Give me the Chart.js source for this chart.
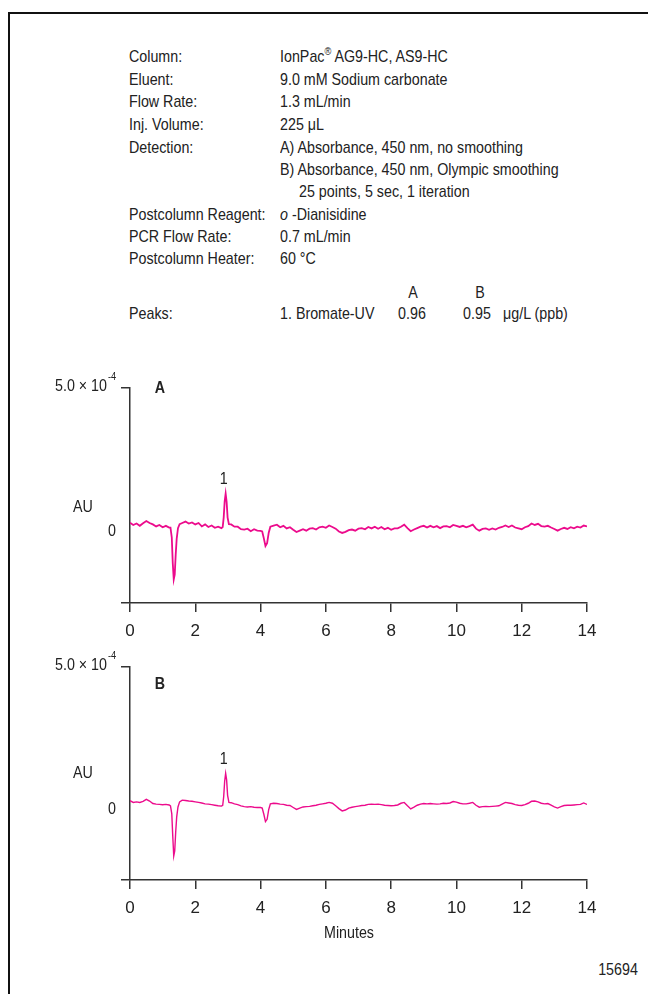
<!DOCTYPE html>
<html>
<head>
<meta charset="utf-8">
<script src="https://cdn.jsdelivr.net/npm/chart.js@4.4.1/dist/chart.umd.min.js"></script>
<style>
  html, body { margin: 0; padding: 0; background: #fff; }
  body {
    width: 648px; height: 994px; position: relative; overflow: hidden;
    font-family: "Liberation Sans", Arial, sans-serif;
    color: #222;
  }
  .frame { position: absolute; left: 8px; top: 12px; width: 700px; height: 1000px;
           border-top: 2px solid #111; border-left: 2px solid #111; }
  /* condensed look: Liberation Sans squeezed horizontally */
  .t { position: absolute; font-size: 17px; line-height: 20px; white-space: nowrap;
       transform: scaleX(0.84); transform-origin: 0 50%; }
  .c { transform: translateX(-50%) scaleX(0.84); transform-origin: 50% 50%; }
  .plot { position: absolute; left: 0; }
  sup { font-size: 11px; vertical-align: 7px; line-height: 0; }
</style>
</head>
<body>
<div class="frame"></div>

<div class="t" style="left:129px;top:47px">Column:</div>
<div class="t" style="left:280px;top:47px">IonPac<sup>®</sup> AG9-HC, AS9-HC</div>
<div class="t" style="left:129px;top:70px">Eluent:</div>
<div class="t" style="left:280px;top:70px">9.0 mM Sodium carbonate</div>
<div class="t" style="left:129px;top:92px">Flow Rate:</div>
<div class="t" style="left:280px;top:92px">1.3 mL/min</div>
<div class="t" style="left:129px;top:115px">Inj. Volume:</div>
<div class="t" style="left:280px;top:115px">225 μL</div>
<div class="t" style="left:129px;top:138px">Detection:</div>
<div class="t" style="left:280px;top:138px">A) Absorbance, 450 nm, no smoothing</div>
<div class="t" style="left:280px;top:160px">B) Absorbance, 450 nm, Olympic smoothing</div>
<div class="t" style="left:299px;top:182px">25 points, 5 sec, 1 iteration</div>
<div class="t" style="left:129px;top:205px">Postcolumn Reagent:</div>
<div class="t" style="left:280px;top:205px"><i>o</i> -Dianisidine</div>
<div class="t" style="left:129px;top:227px">PCR Flow Rate:</div>
<div class="t" style="left:280px;top:227px">0.7 mL/min</div>
<div class="t" style="left:129px;top:249px">Postcolumn Heater:</div>
<div class="t" style="left:280px;top:249px">60 °C</div>
<div class="t c" style="left:413px;top:283px">A</div>
<div class="t c" style="left:480px;top:283px">B</div>
<div class="t" style="left:129px;top:304px">Peaks:</div>
<div class="t" style="left:280px;top:304px">1. Bromate-UV</div>
<div class="t c" style="left:412px;top:304px">0.96</div>
<div class="t c" style="left:477px;top:304px">0.95</div>
<div class="t" style="left:503px;top:304px">μg/L (ppb)</div>

<div class="plot" style="top:370px"><canvas id="chartA" width="648" height="280"></canvas></div>
<div class="plot" style="top:648px"><canvas id="chartB" width="648" height="280"></canvas></div>

<div class="t c" style="left:349px;top:923px">Minutes</div>
<div class="t c" style="left:618px;top:960px">15694</div>

<script>
// Retention time, minutes (shared sampling for both traces)
const minutes = [
  0.0, 0.1, 0.2, 0.3, 0.4, 0.5, 0.6, 0.7, 0.8, 0.9, 1.0, 1.1, 1.2,
  1.24, 1.28, 1.31, 1.34, 1.37, 1.40, 1.43, 1.47, 1.52,
  1.6, 1.7, 1.8, 1.9, 2.0, 2.1, 2.2, 2.3, 2.4, 2.5, 2.6, 2.7, 2.8,
  2.84, 2.87, 2.90, 2.93, 2.96, 2.99, 3.03,
  3.1, 3.2, 3.3, 3.4, 3.5, 3.6, 3.7, 3.8, 3.9, 4.0,
  4.05, 4.10, 4.15, 4.20, 4.25, 4.30,
  4.4, 4.5, 4.6, 4.7, 4.8, 4.9,
  5.0, 5.1, 5.2, 5.3, 5.4, 5.5, 5.6, 5.7, 5.8, 5.9,
  6.0, 6.1, 6.2, 6.3, 6.4, 6.5, 6.6, 6.7, 6.8, 6.9,
  7.0, 7.1, 7.2, 7.3, 7.4, 7.5, 7.6, 7.7, 7.8, 7.9,
  8.0, 8.1, 8.2, 8.3, 8.4, 8.5, 8.6, 8.7, 8.8, 8.9,
  9.0, 9.1, 9.2, 9.3, 9.4, 9.5, 9.6, 9.7, 9.8, 9.9,
  10.0, 10.1, 10.2, 10.3, 10.4, 10.5, 10.6, 10.7, 10.8, 10.9,
  11.0, 11.1, 11.2, 11.3, 11.4, 11.5, 11.6, 11.7, 11.8, 11.9,
  12.0, 12.1, 12.2, 12.3, 12.4, 12.5, 12.6, 12.7, 12.8, 12.9,
  13.0, 13.1, 13.2, 13.3, 13.4, 13.5, 13.6, 13.7, 13.8, 13.9,
  14.0
];

// Absorbance in units of 1e-4 AU, A = no smoothing
const signalA = [
  0.27, 0.19, 0.24, 0.16, 0.25, 0.33, 0.26, 0.21, 0.14, 0.19, 0.11, 0.16, 0.10,
  0.10, -0.25, -1.15, -1.72, -1.55, -0.85, -0.30, 0.08, 0.22,
  0.26, 0.31, 0.24, 0.28, 0.21, 0.26, 0.14, 0.21, 0.12, 0.17, 0.09, 0.13, 0.08,
  0.12, 0.45, 1.02, 1.29, 1.00, 0.45, 0.22,
  0.21, 0.13, 0.13, 0.04, 0.03, 0.06, -0.03, 0.04, -0.01, -0.02,
  -0.04, -0.28, -0.55, -0.45, -0.08, 0.13,
  0.17, 0.20, 0.11, 0.16, 0.07, 0.11,
  0.02, -0.06, -0.01, 0.04, -0.01, 0.06, 0.08, 0.03, 0.11, 0.13,
  0.09, 0.17, 0.12, 0.06, -0.04, -0.09, -0.05, 0.01, 0.03, -0.01,
  0.06, 0.08, 0.04, 0.12, 0.07, 0.13, 0.06, 0.12, 0.04, 0.09,
  0.02, 0.07, 0.07, 0.13, 0.20, 0.08, -0.03, 0.03, 0.08, 0.13,
  0.16, 0.10, 0.16, 0.11, 0.15, 0.08, 0.14, 0.15, 0.11, 0.19,
  0.16, 0.12, 0.16, 0.11, 0.15, 0.20, 0.06, -0.01, 0.05, 0.07,
  0.02, 0.07, 0.03, 0.09, 0.12, 0.17, 0.12, 0.17, 0.10, 0.07,
  0.04, 0.11, 0.15, 0.24, 0.19, 0.23, 0.15, 0.13, 0.16, 0.10,
  0.05, -0.01, 0.05, 0.09, 0.05, 0.11, 0.07, 0.13, 0.10, 0.17,
  0.14
];

// B = Olympic smoothing (25 points, 5 sec, 1 iteration)
const signalB = [
  0.26, 0.20, 0.22, 0.20, 0.24, 0.31, 0.25, 0.16, 0.14, 0.13, 0.12, 0.13, 0.11,
  0.08, -0.20, -1.00, -1.70, -1.52, -0.85, -0.32, 0.04, 0.22,
  0.28, 0.27, 0.25, 0.24, 0.22, 0.20, 0.18, 0.15, 0.14, 0.12, 0.10, 0.08, 0.07,
  0.10, 0.40, 0.95, 1.23, 1.00, 0.45, 0.20,
  0.19, 0.15, 0.12, 0.08, 0.05, 0.04, 0.05, 0.03, 0.02, 0.02,
  0.00, -0.22, -0.48, -0.40, -0.05, 0.15,
  0.17, 0.16, 0.14, 0.13, 0.10, 0.09,
  0.02, -0.05, 0.00, 0.04, 0.05, 0.06, 0.08, 0.10, 0.13, 0.15,
  0.17, 0.20, 0.17, 0.08, -0.02, -0.10, -0.07, 0.00, 0.03, 0.05,
  0.07, 0.09, 0.10, 0.13, 0.14, 0.13, 0.14, 0.12, 0.10, 0.09,
  0.08, 0.09, 0.11, 0.17, 0.20, 0.08, -0.03, 0.03, 0.10, 0.14,
  0.16, 0.15, 0.16, 0.15, 0.14, 0.15, 0.17, 0.16, 0.18, 0.23,
  0.21, 0.17, 0.15, 0.15, 0.17, 0.20, 0.10, 0.03, 0.05, 0.06,
  0.05, 0.06, 0.07, 0.08, 0.14, 0.20, 0.18, 0.16, 0.12, 0.10,
  0.09, 0.12, 0.17, 0.24, 0.25, 0.22, 0.17, 0.15, 0.16, 0.10,
  0.04, 0.00, 0.05, 0.09, 0.10, 0.10, 0.11, 0.12, 0.13, 0.18,
  0.13
];

const xTicks = [0, 2, 4, 6, 8, 10, 12, 14];
const yTopValue = 5.0;      // labelled as 5.0 x 10^-4
const yZeroValue = 0;
const yBottomValue = -2.55;
const peakNames = ['1'];

const FONT = '"Liberation Sans", Arial, sans-serif';
const NARROW = 0.84;
const TRACE = '#ec0b8c';
const AXIS = '#333';

// canvas text squeezed horizontally like the rest of the figure
function narrowText(ctx, text, x, y, align) {
  ctx.save();
  ctx.translate(x, y);
  ctx.scale(NARROW, 1);
  ctx.textAlign = align;
  ctx.fillText(text, 0, 0);
  ctx.restore();
}

// Draws the y labels, the AU caption, the panel letter and the peak number
const panelText = {
  id: 'panelText',
  afterDraw(chart, args, opts) {
    const ctx = chart.ctx;
    const xs = chart.scales.x, ys = chart.scales.y;
    const top = ys.getPixelForValue(yTopValue);
    const zero = ys.getPixelForValue(yZeroValue);
    ctx.save();
    ctx.fillStyle = '#222';
    ctx.textBaseline = 'middle';

    ctx.font = '17px ' + FONT;
    narrowText(ctx, '5.0 \u00d7 10', 107, top - 2, 'right');
    narrowText(ctx, '0', 116, zero + 1, 'right');
    ctx.font = '11px ' + FONT;
    narrowText(ctx, '-4', 108, top - 11, 'left');

    ctx.font = '17px ' + FONT;
    narrowText(ctx, 'AU', 83, zero - opts.auAbove, 'center');

    ctx.font = 'bold 17px ' + FONT;
    narrowText(ctx, opts.letter, 160, top + opts.letterDy, 'center');

    // peak number over the tallest point of the trace
    const data = chart.data.datasets[0].data;
    let best = 0;
    data.forEach((p, i) => { if (p.y > data[best].y) best = i; });
    ctx.font = '17px ' + FONT;
    narrowText(ctx, peakNames[0], xs.getPixelForValue(data[best].x) - 2,
               ys.getPixelForValue(data[best].y) - 14, 'center');
    ctx.restore();
  }
};

function makeChromatogram(canvasId, values, layout) {
  const points = minutes.map((t, i) => ({ x: t, y: values[i] }));
  return new Chart(document.getElementById(canvasId), {
    type: 'line',
    data: {
      datasets: [{
        data: points,
        borderColor: TRACE,
        borderWidth: layout.lineWidth,
        pointRadius: 0,
        tension: 0
      }]
    },
    options: {
      responsive: false,
      animation: false,
      layout: { padding: { top: layout.top, right: 61, left: 0, bottom: 0 } },
      plugins: {
        legend: { display: false },
        tooltip: { enabled: false },
        panelText: { letter: layout.letter, letterDy: layout.letterDy, auAbove: layout.auAbove }
      },
      scales: {
        x: {
          type: 'linear',
          min: 0,
          max: 14,
          afterBuildTicks: s => { s.ticks = xTicks.map(v => ({ value: v })); },
          afterFit: s => { s.height = layout.xHeight; },
          ticks: {
            color: '#222',
            padding: 9,
            font: { family: FONT, size: 17 },
            maxRotation: 0
          },
          grid: { drawOnChartArea: false, tickLength: 9, color: AXIS, lineWidth: 1.5 },
          border: { display: true, color: AXIS, width: 1.5 }
        },
        y: {
          min: yBottomValue,
          max: yTopValue,
          afterBuildTicks: s => {
            s.ticks = [yBottomValue, yZeroValue, yTopValue].map(v => ({ value: v }));
          },
          afterFit: s => { s.width = 130; },
          ticks: { display: false },
          grid: {
            drawOnChartArea: false,
            tickLength: 9,
            lineWidth: 1.5,
            color: c => (c.tick && c.tick.value === yZeroValue) ? 'rgba(0,0,0,0)' : AXIS
          },
          border: { display: true, color: AXIS, width: 1.5 }
        }
      }
    },
    plugins: [panelText]
  });
}

makeChromatogram('chartA', signalA, { top: 18, xHeight: 47, letter: 'A', letterDy: 0, auAbove: 23, lineWidth: 1.8 });
makeChromatogram('chartB', signalB, { top: 19, xHeight: 48, letter: 'B', letterDy: 17, auAbove: 35, lineWidth: 1.4 });
</script>
</body>
</html>
